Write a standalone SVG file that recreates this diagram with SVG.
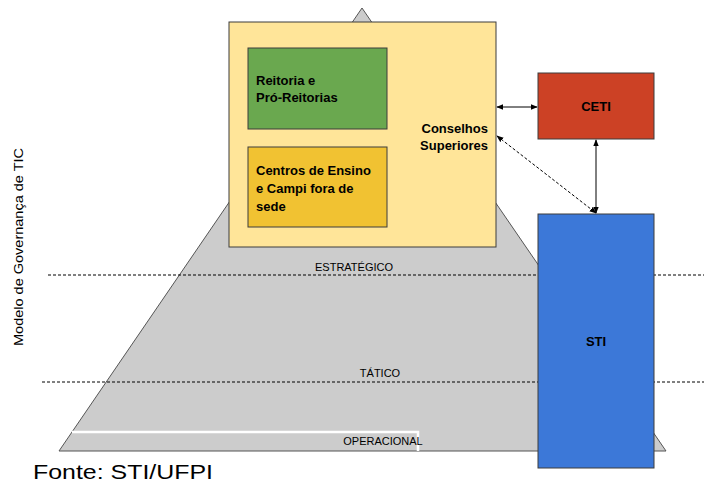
<svg xmlns="http://www.w3.org/2000/svg" width="704" height="484" viewBox="0 0 704 484">
<style>
.box{stroke:#3d3d3d;stroke-width:1}
.lbl{font-family:"Liberation Sans",Arial,sans-serif;font-weight:bold;font-size:13px;fill:#000}
.lvl{font-family:"Liberation Sans",Arial,sans-serif;font-size:11px;fill:#000}
.dash{stroke:#000;stroke-width:1;stroke-dasharray:3,2;fill:none}
.conn{stroke:#000;stroke-width:1;fill:none}
</style>
<defs>
<marker id="ah" viewBox="0 0 10 10" refX="9" refY="5" markerWidth="7" markerHeight="7" orient="auto-start-reverse" markerUnits="userSpaceOnUse">
<path d="M0,1 L10,5 L0,9 z" fill="#000"/>
</marker>
</defs>
<rect width="704" height="484" fill="#fff"/>
<g id="pyramid">
<polygon points="362,8 666,451 59,451" fill="#cccccc" stroke="#555" stroke-width="1"/>
<polyline points="72,432 418,432 418,451" fill="none" stroke="#fff" stroke-width="2.5"/>
</g>
<g id="levels">
<line class="dash" x1="48" y1="275" x2="704" y2="275"/>
<line class="dash" x1="42" y1="382" x2="704" y2="382"/>
<text class="lvl" x="354" y="271" text-anchor="middle">ESTRATÉGICO</text>
<text class="lvl" x="380" y="377" text-anchor="middle">TÁTICO</text>
<text class="lvl" x="383" y="445" text-anchor="middle">OPERACIONAL</text>
</g>
<g id="conselhos">
<rect class="box" x="229" y="22" width="267" height="225" fill="#ffe599"/>
<text class="lbl" x="488" y="133" text-anchor="end">Conselhos</text>
<text class="lbl" x="488" y="150" text-anchor="end">Superiores</text>
</g>
<g id="reitoria">
<rect class="box" x="248" y="48" width="139" height="81" fill="#6aa84f"/>
<text class="lbl" x="256" y="85">Reitoria e</text>
<text class="lbl" x="256" y="102">Pró-Reitorias</text>
</g>
<g id="centros">
<rect class="box" x="248" y="147" width="139" height="80" fill="#f1c232"/>
<text class="lbl" x="256" y="175">Centros de Ensino</text>
<text class="lbl" x="256" y="193">e Campi fora de</text>
<text class="lbl" x="256" y="211">sede</text>
</g>
<g id="ceti">
<rect class="box" x="538" y="73" width="116" height="66" fill="#cc4125"/>
<text class="lbl" x="596" y="111" text-anchor="middle">CETI</text>
</g>
<g id="sti">
<rect class="box" x="538" y="214" width="116" height="254" fill="#3c78d8"/>
<text class="lbl" x="596" y="346" text-anchor="middle">STI</text>
</g>
<g id="connectors">
<line class="conn" x1="497" y1="107" x2="537" y2="107" marker-start="url(#ah)" marker-end="url(#ah)"/>
<line class="conn" x1="596" y1="140" x2="596" y2="213" marker-start="url(#ah)" marker-end="url(#ah)"/>
<line class="conn" x1="497" y1="136" x2="596" y2="213" stroke-dasharray="3,2" marker-start="url(#ah)" marker-end="url(#ah)"/>
</g>
<text x="23" y="247" transform="rotate(-90 23 247)" text-anchor="middle" font-family="Liberation Sans, Arial, sans-serif" font-size="13" fill="#000" textLength="198" lengthAdjust="spacingAndGlyphs">Modelo de Governança de TIC</text>
<text x="33" y="479" font-family="Liberation Sans, Arial, sans-serif" font-size="21" fill="#000" textLength="180" lengthAdjust="spacingAndGlyphs">Fonte: STI/UFPI</text>
</svg>
